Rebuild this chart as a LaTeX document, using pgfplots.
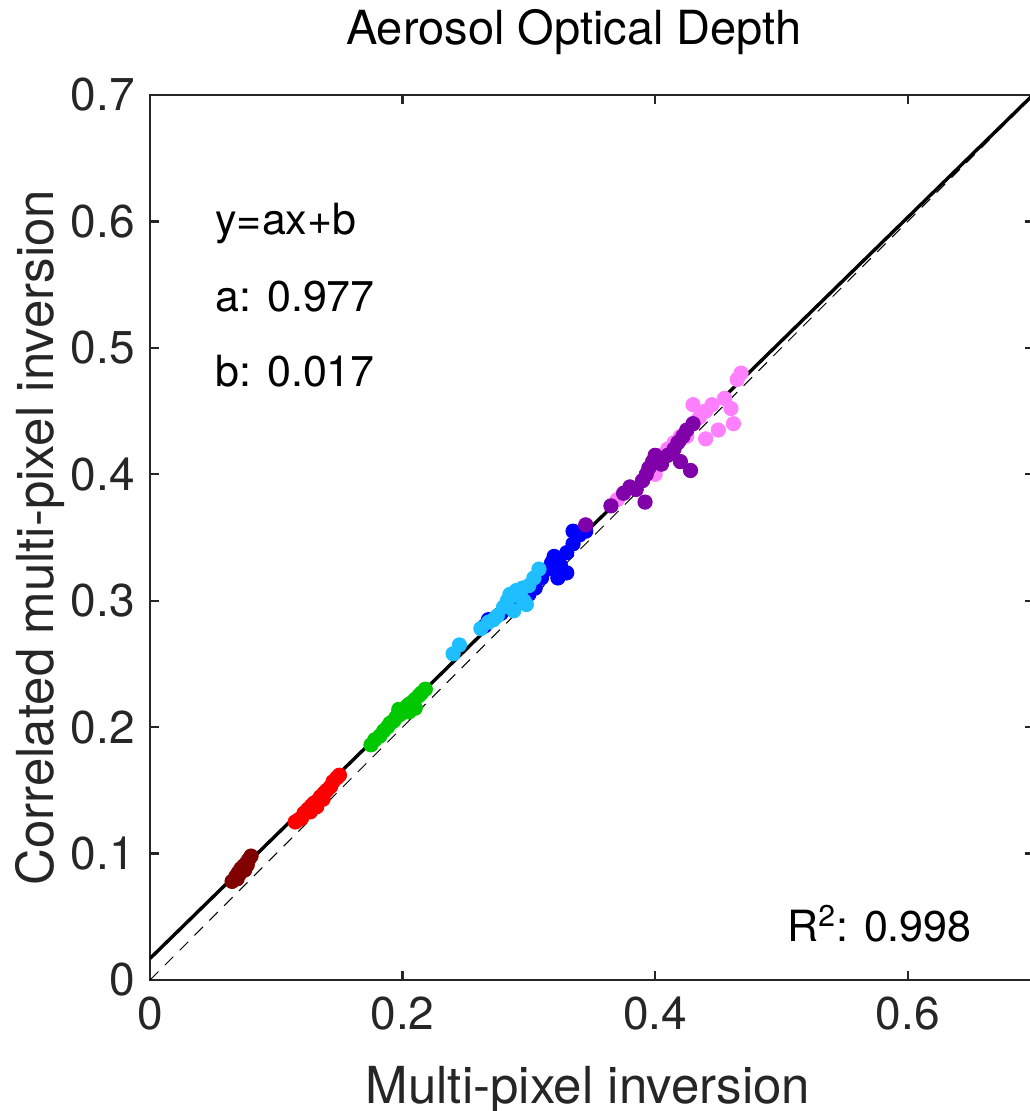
\documentclass[border=0pt]{standalone}
\usepackage{pgfplots}
\pgfplotsset{compat=1.18}
\usepackage{fontspec}
\setmainfont{TeX Gyre Heros}
\definecolor{axc}{RGB}{38,38,38}
\definecolor{cmaroon}{RGB}{128,0,0}
\definecolor{cred}{RGB}{255,0,0}
\definecolor{cgreen}{RGB}{0,200,0}
\definecolor{clblue}{RGB}{30,190,255}
\definecolor{cblue}{RGB}{0,0,255}
\definecolor{cpurple}{RGB}{128,0,170}
\definecolor{cpink}{RGB}{255,128,255}
\begin{document}
\begin{tikzpicture}
\begin{axis}[
  name=ax,
  scale only axis, width=442pt, height=442.5pt,
  xmin=0, xmax=0.7, ymin=0, ymax=0.7,
  xtick={0,0.2,0.4,0.6}, ytick={0,0.1,0.2,0.3,0.4,0.5,0.6,0.7},
  xticklabels={0,0.2,0.4,0.6},
  yticklabels={0,0.1,0.2,0.3,0.4,0.5,0.6,0.7},
  tick align=inside, major tick length=4.5pt,
  axis line style={axc, line width=1.2pt},
  tick style={axc, line width=1.2pt},
  ticklabel style={font=\fontsize{23}{27}\selectfont, text=axc},
  yticklabel style={inner sep=0pt, xshift=-7.5pt},
  xticklabel style={inner sep=0pt, yshift=-8pt},
  xlabel={Multi-pixel inversion}, ylabel={Correlated multi-pixel inversion},
  label style={font=\fontsize{25.5}{29}\selectfont, text=axc},
  xlabel style={at={(axis description cs:0.4955,0)}, anchor=base, yshift=-61.5pt},
  ylabel style={at={(axis description cs:-0.1097,0.5)}, anchor=base, rotate=0},
  every axis title shift=0pt,
  title={Aerosol Optical Depth},
  title style={font=\fontsize{23.5}{27}\selectfont, at={(axis description cs:0.4796,1)}, anchor=base, yshift=25pt},
  clip=true,
  mark size=3.6pt,
]
\addplot[only marks, mark=*, color=cmaroon] coordinates {
(0.065,0.078)(0.068,0.082)(0.070,0.085)(0.072,0.088)(0.074,0.090)(0.076,0.092)(0.078,0.095)(0.080,0.098)(0.069,0.080)(0.075,0.087)(0.077,0.091)(0.071,0.084)};
\addplot[only marks, mark=*, color=cred] coordinates {
(0.115,0.125)(0.118,0.127)(0.120,0.128)(0.122,0.132)(0.125,0.135)(0.128,0.138)(0.130,0.140)(0.133,0.142)(0.135,0.145)(0.138,0.148)(0.140,0.150)(0.143,0.153)(0.145,0.157)(0.148,0.160)(0.150,0.162)(0.132,0.137)(0.137,0.143)(0.127,0.133)};
\addplot[only marks, mark=*, color=cgreen] coordinates {
(0.175,0.186)(0.178,0.190)(0.182,0.193)(0.185,0.197)(0.188,0.200)(0.190,0.203)(0.193,0.205)(0.195,0.208)(0.198,0.210)(0.200,0.213)(0.203,0.216)(0.205,0.218)(0.208,0.220)(0.210,0.222)(0.213,0.225)(0.215,0.227)(0.218,0.230)(0.205,0.212)(0.210,0.215)(0.197,0.214)};
\addplot[only marks, mark=*, color=cblue] coordinates {
(0.265,0.280)(0.268,0.285)(0.278,0.290)(0.290,0.298)(0.300,0.305)(0.310,0.318)(0.315,0.325)(0.318,0.330)(0.320,0.335)(0.325,0.328)(0.330,0.322)(0.323,0.318)(0.330,0.338)(0.335,0.345)(0.340,0.352)(0.345,0.355)(0.335,0.355)(0.305,0.310)};
\addplot[only marks, mark=*, color=clblue] coordinates {
(0.240,0.258)(0.245,0.265)(0.262,0.278)(0.268,0.283)(0.275,0.288)(0.280,0.295)(0.283,0.300)(0.285,0.305)(0.290,0.308)(0.293,0.303)(0.296,0.300)(0.298,0.297)(0.300,0.312)(0.304,0.318)(0.308,0.325)(0.288,0.292)(0.272,0.285)(0.295,0.310)};
\addplot[only marks, mark=*, color=cpink] coordinates {
(0.370,0.380)(0.390,0.395)(0.400,0.400)(0.405,0.415)(0.410,0.420)(0.415,0.425)(0.420,0.430)(0.425,0.430)(0.430,0.440)(0.435,0.445)(0.440,0.450)(0.445,0.455)(0.430,0.455)(0.450,0.435)(0.455,0.460)(0.460,0.452)(0.462,0.440)(0.465,0.475)(0.468,0.480)(0.440,0.428)};
\addplot[only marks, mark=*, color=cpurple] coordinates {
(0.345,0.360)(0.365,0.375)(0.375,0.385)(0.380,0.390)(0.385,0.388)(0.390,0.395)(0.393,0.400)(0.395,0.405)(0.398,0.410)(0.400,0.415)(0.405,0.408)(0.410,0.415)(0.415,0.420)(0.418,0.425)(0.422,0.430)(0.425,0.435)(0.420,0.410)(0.428,0.403)(0.430,0.440)(0.392,0.378)};
\addplot[black, dash pattern=on 6pt off 4.5pt, line width=0.5pt] coordinates {(0,0)(0.7,0.7)};
\addplot[black, line width=1.7pt] coordinates {(0,0.017)(0.7,0.7009)};
\node[anchor=base west, inner sep=0pt, font=\fontsize{21.5}{26}\selectfont] at (axis cs:0.0515,0.5894) {y=ax+b};
\node[anchor=base west, inner sep=0pt, font=\fontsize{21.5}{26}\selectfont] at (axis cs:0.0515,0.5285) {a: 0.977};
\node[anchor=base west, inner sep=0pt, font=\fontsize{21.5}{26}\selectfont] at (axis cs:0.0515,0.4691) {b: 0.017};
\node[anchor=base west, inner sep=0pt, font=\fontsize{21.5}{26}\selectfont] at (axis cs:0.5044,0.0301) {R\textsuperscript{2}: 0.998};
\end{axis}
\pgfresetboundingbox
\path[use as bounding box] ([xshift=-75pt,yshift=-65.5pt]ax.south west) rectangle ([xshift=-2pt,yshift=47.5pt]ax.north east);
\end{tikzpicture}
\end{document}
